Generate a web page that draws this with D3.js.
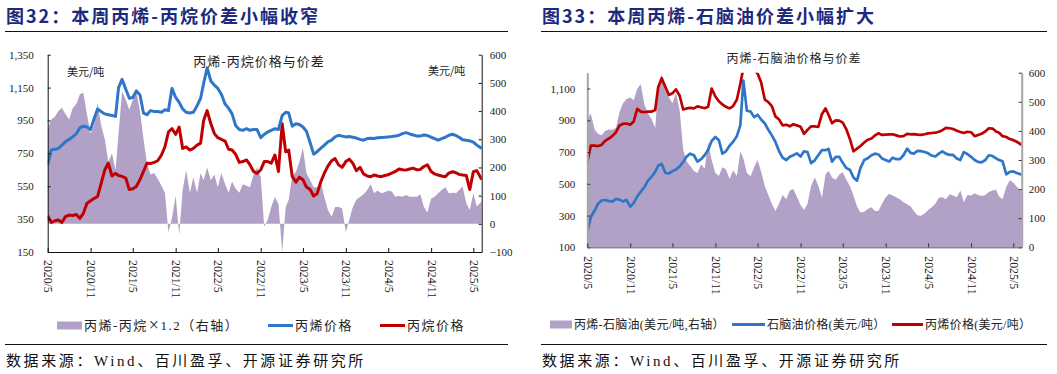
<!DOCTYPE html>
<html>
<head>
<meta charset="utf-8">
<script src="https://cdn.jsdelivr.net/npm/d3@7"></script>
<style>
  body { margin: 0; background: #fff; }
  svg { display: block; }
</style>
</head>
<body>
<script>
// half-monthly sample dates shared by both charts
const dateStrings = [
  '2020-05-01', '2020-05-16', '2020-06-01', '2020-06-16', '2020-07-01', '2020-07-16', '2020-08-01', '2020-08-16',
  '2020-09-01', '2020-09-16', '2020-10-01', '2020-10-16', '2020-11-01', '2020-11-16', '2020-12-01', '2020-12-16',
  '2021-01-01', '2021-01-16', '2021-02-01', '2021-02-16', '2021-03-01', '2021-03-16', '2021-04-01', '2021-04-16',
  '2021-05-01', '2021-05-16', '2021-06-01', '2021-06-16', '2021-07-01', '2021-07-16', '2021-08-01', '2021-08-16',
  '2021-09-01', '2021-09-16', '2021-10-01', '2021-10-16', '2021-11-01', '2021-11-16', '2021-12-01', '2021-12-16',
  '2022-01-01', '2022-01-16', '2022-02-01', '2022-02-16', '2022-03-01', '2022-03-16', '2022-04-01', '2022-04-16',
  '2022-05-01', '2022-05-16', '2022-06-01', '2022-06-16', '2022-07-01', '2022-07-16', '2022-08-01', '2022-08-16',
  '2022-09-01', '2022-09-16', '2022-10-01', '2022-10-16', '2022-11-01', '2022-11-16', '2022-12-01', '2022-12-16',
  '2023-01-01', '2023-01-16', '2023-02-01', '2023-02-16', '2023-03-01', '2023-03-16', '2023-04-01', '2023-04-16',
  '2023-05-01', '2023-05-16', '2023-06-01', '2023-06-16', '2023-07-01', '2023-07-16', '2023-08-01', '2023-08-16',
  '2023-09-01', '2023-09-16', '2023-10-01', '2023-10-16', '2023-11-01', '2023-11-16', '2023-12-01', '2023-12-16',
  '2024-01-01', '2024-01-16', '2024-02-01', '2024-02-16', '2024-03-01', '2024-03-16', '2024-04-01', '2024-04-16',
  '2024-05-01', '2024-05-16', '2024-06-01', '2024-06-16', '2024-07-01', '2024-07-16', '2024-08-01', '2024-08-16',
  '2024-09-01', '2024-09-16', '2024-10-01', '2024-10-16', '2024-11-01', '2024-11-16', '2024-12-01', '2024-12-16',
  '2025-01-01', '2025-01-16', '2025-02-01', '2025-02-16', '2025-03-01', '2025-03-16', '2025-04-01', '2025-04-16',
  '2025-05-01', '2025-05-16', '2025-06-06'
]

const xTickLabels = ['2020/5', '2020/11', '2021/5', '2021/11', '2022/5', '2022/11', '2023/5', '2023/11', '2024/5', '2024/11', '2025/5']

// 图32: 丙烯-丙烷
const c1Propylene = [
  680, 770, 775, 780, 800, 820, 835, 850, 870, 905,
  915, 910, 895, 960, 1020, 1005, 990, 985, 980, 975,
  1150, 1200, 1140, 1085, 1090, 1130, 1105, 995, 985, 1010,
  1005, 1005, 1000, 1015, 1010, 1145, 1090, 1060, 1020, 1000,
  995, 1000, 1040, 1085, 1175, 1270, 1190, 1165, 1145, 1110,
  1050, 1025, 990, 920, 895, 890, 900, 890, 895, 895,
  845, 865, 880, 890, 900, 895, 980, 1000, 995, 915,
  930, 925, 910, 885, 815, 745, 760, 780, 800, 820,
  830, 850, 860, 855, 850, 852, 848, 843, 835, 830,
  840, 842, 840, 845, 847, 848, 850, 852, 855, 860,
  870, 876, 868, 862, 855, 855, 862, 858, 848, 840,
  830, 840, 848, 860, 866, 858, 848, 833, 830, 826,
  818, 800, 780
]
const c1Propane = [
  370, 330, 340, 345, 330, 365, 375, 372, 378, 355,
  385, 445, 462, 475, 488, 565, 650, 690, 612, 628,
  615, 610, 600, 530, 535, 548, 590, 640, 690, 688,
  695, 705, 740, 790, 880, 900, 865, 910, 780, 790,
  770, 780, 800, 812, 950, 1010, 930, 870, 845, 835,
  825, 775, 770, 745, 695, 700, 710, 680, 640, 628,
  650, 700, 700, 690, 740, 640, 930, 760, 770, 610,
  575, 605, 590, 545, 530, 490, 505, 575, 630, 672,
  705, 718, 680, 665, 700, 715, 690, 645, 665, 625,
  612, 608, 618, 612, 608, 615, 620, 630, 640, 655,
  650, 648, 655, 660, 650, 652, 670, 680, 640, 625,
  618, 612, 608, 630, 638, 632, 622, 618, 615, 530,
  638, 645, 590
]
const c1Spread = [
  335, 370, 380, 400, 412, 390, 370, 410, 425, 460,
  465, 390, 320, 350, 430, 350, 300, 220, 250, 190,
  320, 470, 440, 405, 440, 470, 400, 300, 215, 175,
  180, 160, 135, 110, -30, 20, 100, -40, 120, 190,
  110, 165, 110, 180, 155, 200, 155, 175, 130, 180,
  140, 110, 150, 125, 110, 140, 135, 130, 175, 200,
  165, -10, 14, 60, 95, 70, -100, 60, 85, 170,
  185, 220, 270, 180, 155, 130, 130, 150, 95, 50,
  25, 60, 60, 55, -30, 15, 60, 85, 95, 105,
  120, 140, 108, 118, 108, 112, 118, 115, 96, 100,
  96, 102, 96, 96, 96, 105, 60, 40, 90, 96,
  108, 120, 130, 108, 110, 108, 120, 132, 73, 49,
  108, 61, 80
]
const c1LeftTicks = [150, 350, 550, 750, 950, 1150, 1350]
const c1RightTicks = [-100, 0, 100, 200, 300, 400, 500, 600]

// 图33: 丙烯-石脑油
const c2Propylene = [
  640, 740, 740, 738, 745, 770, 785, 800, 825, 868,
  878, 880, 872, 893, 972, 955, 952, 955, 955, 965,
  1110, 1165, 1110, 1060, 1070, 1095, 1055, 968, 975, 978,
  975, 988, 982, 976, 985, 1100, 1050, 1020, 1000, 985,
  975, 990, 1030, 1130, 1230, 1260, 1250, 1220, 1195, 1140,
  1030, 1015, 990, 925, 905, 868, 872, 862, 875, 868,
  860, 815, 840, 862, 862, 858, 940, 975, 935, 882,
  900, 898, 885, 845, 780, 705, 722, 738, 760, 778,
  785, 805, 818, 808, 810, 812, 812, 805, 798, 800,
  815, 812, 813, 810, 808, 812, 818, 820, 822, 828,
  838, 852, 850, 845, 835, 826, 820, 828, 825, 800,
  808, 815, 830, 850, 848, 830, 822, 800, 795, 782,
  775, 765, 745
]
const c2Naphtha = [
  200, 290, 330, 375, 395, 398, 392, 388, 405, 400,
  388, 398, 356, 380, 420, 450, 480, 520, 545, 575,
  615, 625, 568, 566, 580, 590, 610, 638, 672, 690,
  680, 640, 655, 680, 715, 770, 795, 775, 690, 705,
  740, 765, 800, 870, 1150, 960, 955, 920, 935, 905,
  880, 840, 805, 765, 705, 665, 650, 670, 680, 692,
  672, 705, 700, 630, 648, 680, 712, 712, 720, 640,
  670, 670, 632, 600, 587, 540, 520, 600, 650, 661,
  680, 690, 685, 660, 650, 640, 665, 655, 655, 680,
  722, 695, 690, 708, 706, 700, 692, 678, 672, 690,
  705, 690, 682, 682, 660, 650, 700, 688, 670, 650,
  638, 635, 650, 680, 675, 660, 650, 642, 560, 575,
  578, 568, 558
]
const c2Spread = [
  440, 460, 405, 390, 385, 400, 405, 404, 410, 465,
  495, 510, 515, 505, 545, 560, 490, 460, 440, 410,
  550, 595, 540, 515, 495, 530, 470, 335, 295, 280,
  262, 255, 285, 270, 360, 300, 255, 245, 275, 268,
  235, 265, 245, 330, 305, 255, 244, 275, 300, 260,
  210, 180, 150, 125, 150, 180, 165, 195, 200, 175,
  145, 128, 150, 210, 240, 212, 170, 250, 262, 240,
  232, 250, 258, 232, 210, 178, 140, 120, 122, 132,
  138, 125, 125, 150, 172, 184, 178, 172, 165, 155,
  148, 140, 125, 110, 108, 116, 128, 138, 150, 170,
  172, 165, 182, 178, 172, 195, 155, 180, 178, 186,
  180, 176, 180, 190, 195, 198, 175, 165, 208, 230,
  222, 208, 192
]
const c2LeftTicks = [100, 300, 500, 700, 900, 1100]
const c2RightTicks = [0, 100, 200, 300, 400, 500, 600]

const purple = '#b1a1c7'
const blue = '#2f76c9'
const red = '#c00000'
const serif = "'Liberation Serif', 'Noto Sans CJK SC', serif"
const cjk = "'Noto Sans CJK SC', sans-serif"

const dates = dateStrings.map(d3.timeParse('%Y-%m-%d'))
const xTicks = xTickLabels.map(d3.timeParse('%Y/%m'))
const fmtTick = d3.timeFormat('%Y/%-m')

let svg = d3.select('body').append('svg').attr('width', 1057).attr('height', 374)

function header (x0, x1, title) {
  svg.append('text')
    .attr('x', x0 + 1).attr('y', 23)
    .attr('fill', '#1c2a7e')
    .style('font-family', cjk).style('font-weight', 'bold')
    .style('font-size', '18px').style('letter-spacing', '2px')
    .text(title)
  svg.append('line').attr('x1', x0).attr('x2', x1).attr('y1', 31.5).attr('y2', 31.5)
    .attr('stroke', '#111').attr('stroke-width', 1.2)
  svg.append('line').attr('x1', x0).attr('x2', x1).attr('y1', 344.5).attr('y2', 344.5)
    .attr('stroke', '#111').attr('stroke-width', 1.2)
  svg.append('text')
    .attr('x', x0 + 1).attr('y', 366)
    .attr('fill', '#111')
    .style('font-family', serif).style('font-size', '15px').style('letter-spacing', '2.6px')
    .text('数据来源：Wind、百川盈孚、开源证券研究所')
}

function styleAxis (g, color, tickColor) {
  g.attr('font-family', serif).attr('font-size', 11)
  g.select('.domain').attr('stroke', color)
  g.selectAll('.tick line').attr('stroke', tickColor || color)
  g.selectAll('.tick text').attr('fill', '#1a1a1a')
}

function drawPanel (p) {
  let g = svg.append('g')
  let x = d3.scaleTime().domain([dates[0], dates[dates.length - 1]]).range([p.left, p.right])
  let yL = d3.scaleLinear().domain(p.leftDomain).range([p.bottom, p.top])
  let yR = d3.scaleLinear().domain(p.rightDomain).range([p.bottom, p.top])

  g.append('clipPath').attr('id', p.id + '-clip')
    .append('rect')
    .attr('x', p.left).attr('y', p.top)
    .attr('width', p.right - p.left).attr('height', p.bottom - p.top)

  let plot = g.append('g').attr('clip-path', 'url(#' + p.id + '-clip)')

  // spread area on the right axis, from zero
  let area = d3.area()
    .x(function (d, i) { return x(dates[i]) })
    .y0(yR(0))
    .y1(function (d) { return yR(d) })
  plot.append('path').datum(p.spread).attr('fill', purple).attr('d', area)

  let line = d3.line()
    .x(function (d, i) { return x(dates[i]) })
    .y(function (d) { return yL(d) })
  p.lines.forEach(function (s) {
    plot.append('path').datum(s.values)
      .attr('fill', 'none').attr('stroke', s.color)
      .attr('stroke-width', p.lineWidth).attr('stroke-linejoin', 'round')
      .attr('d', line)
  })

  // axes
  g.append('g').attr('transform', 'translate(' + p.left + ',0)')
    .call(d3.axisLeft(yL).tickValues(p.leftTicks).tickFormat(d3.format(','))
      .tickSizeInner(-3).tickSizeOuter(0).tickPadding(p.leftPad))
    .call(styleAxis, p.sideColor, p.tickColor)
    .select('.domain').attr('stroke-width', p.sideWidth)

  g.append('g').attr('transform', 'translate(' + p.right + ',0)')
    .call(d3.axisRight(yR).tickValues(p.rightTicks)
      .tickSizeInner(-3).tickSizeOuter(0).tickPadding(p.rightPad))
    .call(styleAxis, p.sideColor, p.tickColor)
    .select('.domain').attr('stroke-width', p.sideWidth)

  let xAxis = g.append('g').attr('transform', 'translate(0,' + p.bottom + ')')
    .call(d3.axisBottom(x).tickValues(xTicks).tickFormat(fmtTick)
      .tickSizeInner(-4).tickSizeOuter(0))
    .call(styleAxis, p.bottomColor, p.tickColor)
  xAxis.selectAll('.tick text')
    .attr('transform', 'rotate(90)')
    .attr('x', p.labelGap).attr('y', 0).attr('dy', '0.33em')
    .attr('font-size', 11.8)
    .style('text-anchor', 'start')

  // titles and unit labels
  g.append('text').attr('x', p.titleX).attr('y', p.titleY)
    .attr('text-anchor', 'middle').attr('fill', '#222')
    .style('font-family', cjk).style('font-size', p.titleSize + 'px').style('letter-spacing', '1px')
    .text(p.title)
  p.units.forEach(function (u) {
    g.append('text').attr('x', u[0]).attr('y', u[1]).attr('fill', '#222')
      .style('font-family', cjk).style('font-size', '11px')
      .text('美元/吨')
  })

  // legend
  p.legend.forEach(function (l) {
    if (l.type === 'area') {
      g.append('rect').attr('x', l.x).attr('y', p.legendY - 8.5)
        .attr('width', l.w).attr('height', 8).attr('fill', purple)
    } else {
      g.append('line').attr('x1', l.x).attr('x2', l.x + l.w)
        .attr('y1', p.legendY - 4.5).attr('y2', p.legendY - 4.5)
        .attr('stroke', l.color).attr('stroke-width', 3)
    }
    let t = g.append('text').attr('x', l.x + l.w + 2).attr('y', p.legendY).attr('fill', '#222')
      .style('font-family', serif).style('font-size', p.legendSize + 'px')
      .style('letter-spacing', p.legendSpacing + 'px')
    // the multiplication sign is drawn wider, as in the original
    l.label.split(/(×)/).forEach(function (part) {
      let span = t.append('tspan').text(part)
      if (part === '×') span.style('font-size', '18px').attr('dy', 1).attr('dx', 1)
      else if (t.selectAll('tspan').size() > 1) span.attr('dy', -1)
    })
  })
}

header(5, 508, '图32：本周丙烯-丙烷价差小幅收窄')
header(541, 1047, '图33：本周丙烯-石脑油价差小幅扩大')

drawPanel({
  id: 'c1',
  left: 47.7, right: 481.7, top: 54.7, bottom: 252,
  leftDomain: [150, 1350], rightDomain: [-100, 600],
  leftTicks: c1LeftTicks, rightTicks: c1RightTicks,
  leftPad: 14, rightPad: 8, labelGap: 8,
  sideColor: '#111', sideWidth: 1, bottomColor: '#111', tickColor: '#111',
  lineWidth: 3,
  spread: c1Spread,
  lines: [
    { values: c1Propane, color: red },
    { values: c1Propylene, color: blue }
  ],
  title: '丙烯-丙烷价格与价差', titleX: 259, titleY: 66, titleSize: 13,
  units: [[67, 76], [428, 75]],
  legendY: 330, legendSize: 13, legendSpacing: 1.5,
  legend: [
    { type: 'area', x: 57, w: 25, label: '丙烯-丙烷×1.2（右轴）' },
    { type: 'line', x: 268, w: 25, color: blue, label: '丙烯价格' },
    { type: 'line', x: 380, w: 25, color: red, label: '丙烷价格' }
  ]
})

drawPanel({
  id: 'c2',
  left: 587.3, right: 1021.7, top: 72.7, bottom: 247.3,
  leftDomain: [100, 1200], rightDomain: [0, 600],
  leftTicks: c2LeftTicks, rightTicks: c2RightTicks,
  leftPad: 12, rightPad: 7, labelGap: 9,
  sideColor: '#a6a6a6', sideWidth: 2, bottomColor: '#555', tickColor: '#333',
  lineWidth: 2.7,
  spread: c2Spread,
  lines: [
    { values: c2Naphtha, color: blue },
    { values: c2Propylene, color: red }
  ],
  title: '丙烯-石脑油价格与价差', titleX: 794, titleY: 63, titleSize: 12,
  units: [],
  legendY: 329, legendSize: 12, legendSpacing: 0.3,
  legend: [
    { type: 'area', x: 550, w: 22, label: '丙烯-石脑油(美元/吨,右轴）' },
    { type: 'line', x: 732, w: 33, color: blue, label: '石脑油价格(美元/吨）' },
    { type: 'line', x: 892, w: 31, color: red, label: '丙烯价格(美元/吨）' }
  ]
})
</script>
</body>
</html>
